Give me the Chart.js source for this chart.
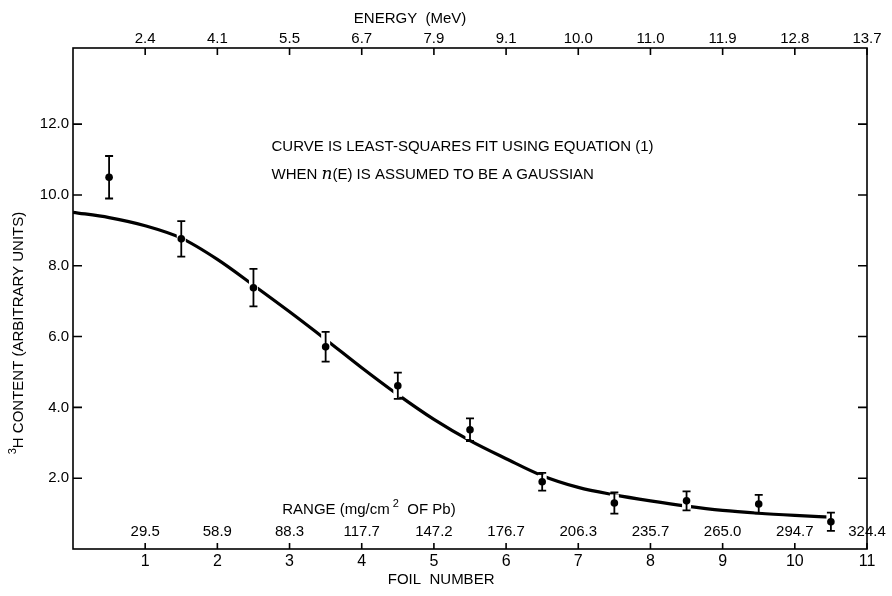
<!DOCTYPE html>
<html>
<head>
<meta charset="utf-8">
<script src="https://cdn.jsdelivr.net/npm/chart.js@4.4.1/dist/chart.umd.min.js"></script>
<style>
html, body { margin: 0; padding: 0; background: #fff; }
</style>
</head>
<body>
<canvas id="grafico" width="892" height="596"></canvas>
<script>
// posicion de cada lamina (centro) y contenido de 3H medido
const laminas = [0.5, 1.5, 2.5, 3.5, 4.5, 5.5, 6.5, 7.5, 8.5, 9.5, 10.5];
const contenido = [10.5, 8.76, 7.38, 5.71, 4.61, 3.37, 1.90, 1.30, 1.36, 1.27, 0.77];
const errores = [0.6, 0.5, 0.53, 0.42, 0.37, 0.32, 0.25, 0.3, 0.27, 0.26, 0.26];

// curva de ajuste (minimos cuadrados, n(E) gaussiana)
const ajusteX = [0, 0.5, 1, 1.5, 2, 2.5, 3, 3.5, 4, 4.5, 5, 5.5, 6, 6.5, 7, 7.5, 8, 8.5, 9, 9.5, 10, 10.5];
const ajusteY = [9.51, 9.36, 9.13, 8.78, 8.18, 7.45, 6.70, 5.92, 5.12, 4.36, 3.66, 3.06, 2.55, 2.07, 1.74, 1.53, 1.36, 1.21, 1.09, 1.01, 0.95, 0.90];

// etiquetas de los ejes
const numeroLamina = [1, 2, 3, 4, 5, 6, 7, 8, 9, 10, 11];
const energia = ['2.4', '4.1', '5.5', '6.7', '7.9', '9.1', '10.0', '11.0', '11.9', '12.8', '13.7'];
const rango = ['29.5', '58.9', '88.3', '117.7', '147.2', '176.7', '206.3', '235.7', '265.0', '294.7', '324.4'];
const marcasY = [2, 4, 6, 8, 10, 12];

const fuente = '"Liberation Sans", "DejaVu Sans", sans-serif';

function textoConSuper(ctx, partes, x, y) {
    // partes: [texto, tipo] tipo: 'n' normal, 's' superindice
    const f = tipo => tipo === 's' ? '11px ' + fuente : '15px ' + fuente;
    let ancho = 0;
    partes.forEach(([t, tipo]) => {
        ctx.font = f(tipo);
        ancho += ctx.measureText(t).width;
    });
    let cx = x - ancho / 2;
    partes.forEach(([t, tipo]) => {
        ctx.font = f(tipo);
        ctx.fillText(t, cx, tipo === 's' ? y - 7 : y);
        cx += ctx.measureText(t).width;
    });
}

const marco = {
    id: 'marco',
    afterDatasetDraw(chart, args) {
        if (args.index !== 0) return;
        // barras de error, con un halo blanco que corta la curva
        const ctx = chart.ctx;
        const sx = chart.scales.x, sy = chart.scales.y;
        ctx.save();
        laminas.forEach((l, i) => {
            const px = sx.getPixelForValue(l);
            const y1 = sy.getPixelForValue(contenido[i] + errores[i]);
            const y2 = sy.getPixelForValue(contenido[i] - errores[i]);
            ctx.strokeStyle = '#fff';
            ctx.lineWidth = 9;
            ctx.beginPath();
            ctx.moveTo(px, y1 + 2);
            ctx.lineTo(px, y2 - 2);
            ctx.stroke();
            ctx.strokeStyle = '#000';
            ctx.lineWidth = 1.8;
            ctx.beginPath();
            ctx.moveTo(px, y1);
            ctx.lineTo(px, y2);
            ctx.moveTo(px - 4, y1);
            ctx.lineTo(px + 4, y1);
            ctx.moveTo(px - 4, y2);
            ctx.lineTo(px + 4, y2);
            ctx.stroke();
        });
        ctx.restore();
    },
    afterDraw(chart) {
        const ctx = chart.ctx;
        const a = chart.chartArea;
        const sx = chart.scales.x, sy = chart.scales.y;
        ctx.save();
        ctx.strokeStyle = '#000';
        ctx.lineWidth = 1.6;
        ctx.strokeRect(a.left, a.top, a.right - a.left, a.bottom - a.top);
        ctx.beginPath();
        numeroLamina.forEach(n => {
            const px = sx.getPixelForValue(n);
            ctx.moveTo(px, a.bottom);
            ctx.lineTo(px, a.bottom - 6);
            ctx.moveTo(px, a.top);
            ctx.lineTo(px, a.top + 7);
        });
        marcasY.forEach(v => {
            const py = sy.getPixelForValue(v);
            ctx.moveTo(a.left, py);
            ctx.lineTo(a.left + 9, py);
            ctx.moveTo(a.right, py);
            ctx.lineTo(a.right - 9, py);
        });
        ctx.stroke();

        ctx.fillStyle = '#000';
        ctx.textAlign = 'center';
        ctx.textBaseline = 'middle';
        ctx.font = '15px ' + fuente;
        numeroLamina.forEach((n, i) => {
            ctx.fillText(rango[i], sx.getPixelForValue(n), a.bottom - 17);
        });

        ctx.textAlign = 'left';
        ctx.textBaseline = 'alphabetic';
        textoConSuper(ctx, [['RANGE (mg/cm', 'n'], [' 2', 's'], ['  OF Pb)', 'n']], sx.getPixelForValue(4.1), a.bottom - 35);
        textoConSuper(ctx, [['ENERGY  (MeV)', 'n']], sx.getPixelForValue(4.67), 23);
        textoConSuper(ctx, [['FOIL  NUMBER', 'n']], sx.getPixelForValue(5.1), 584);

        ctx.font = '15px ' + fuente;
        let x0 = sx.getPixelForValue(2.75);
        ctx.fillText('CURVE IS LEAST-SQUARES FIT USING EQUATION (1)', x0, sy.getPixelForValue(11.25));
        const y0 = sy.getPixelForValue(10.45);
        ctx.fillText('WHEN ', x0, y0);
        x0 += ctx.measureText('WHEN ').width;
        ctx.font = 'italic 17px "DejaVu Serif", serif';
        ctx.fillText('n', x0, y0);
        x0 += ctx.measureText('n').width;
        ctx.font = '15px ' + fuente;
        ctx.fillText('(E) IS ASSUMED TO BE A GAUSSIAN', x0, y0);

        ctx.translate(23, sy.getPixelForValue(6.1));
        ctx.rotate(-Math.PI / 2);
        textoConSuper(ctx, [['3', 's'], ['H CONTENT (ARBITRARY UNITS)', 'n']], 0, 0);
        ctx.restore();
    }
};

new Chart(document.getElementById('grafico'), {
    type: 'scatter',
    data: {
        datasets: [{
            type: 'line',
            label: 'ajuste',
            data: ajusteX.map((x, i) => ({x: x, y: ajusteY[i]})),
            borderColor: '#000',
            borderWidth: 3.2,
            pointRadius: 0,
            fill: false,
            cubicInterpolationMode: 'monotone',
            order: 2
        }, {
            label: 'medido',
            data: laminas.map((x, i) => ({x: x, y: contenido[i]})),
            backgroundColor: '#000',
            borderColor: '#000',
            pointRadius: 3.8,
            pointBorderWidth: 0,
            order: 1
        }]
    },
    options: {
        responsive: false,
        devicePixelRatio: 1,
        animation: false,
        layout: { padding: { left: 0, right: 25, top: 0, bottom: 0 } },
        plugins: { legend: { display: false }, tooltip: { enabled: false } },
        scales: {
            x: {
                type: 'linear', position: 'bottom', min: 0, max: 11,
                grid: { display: false, drawTicks: false },
                border: { display: false },
                ticks: {
                    stepSize: 1, autoSkip: false, maxRotation: 0, padding: 3,
                    color: '#000', font: { family: fuente, size: 16 },
                    callback: v => (v >= 1 && v <= 11) ? String(v) : ''
                },
                afterFit: s => { s.height = 47; }
            },
            x2: {
                type: 'linear', position: 'top', min: 0, max: 11,
                grid: { display: false, drawTicks: false },
                border: { display: false },
                ticks: {
                    stepSize: 1, autoSkip: false, maxRotation: 0, padding: 0,
                    color: '#000', font: { family: fuente, size: 15 },
                    callback: v => energia[v - 1] || ''
                },
                afterFit: s => { s.height = 48; }
            },
            y: {
                type: 'linear', min: 0, max: 14.15,
                grid: { display: false, drawTicks: false },
                border: { display: false },
                ticks: {
                    stepSize: 2, padding: 4,
                    color: '#000', font: { family: fuente, size: 15 },
                    callback: v => (v >= 2 && v <= 12) ? v.toFixed(1) : ''
                },
                afterFit: s => { s.width = 73; }
            }
        }
    },
    plugins: [marco]
});
</script>
</body>
</html>
